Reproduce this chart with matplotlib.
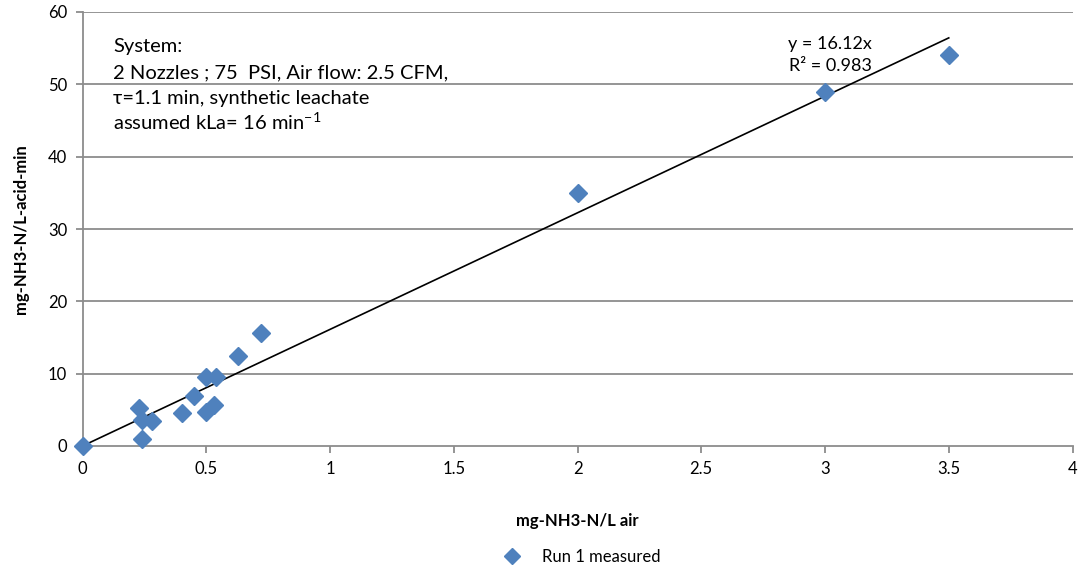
import matplotlib
matplotlib.use("Agg")
import matplotlib.pyplot as plt
import numpy as np

plt.rcParams['font.family'] = ['Lato', 'DejaVu Sans']
plt.rcParams['mathtext.fontset'] = 'custom'
plt.rcParams['mathtext.rm'] = 'Lato'

x_air = [0, 0.23, 0.24, 0.28, 0.24, 0.40, 0.45, 0.50, 0.54, 0.50, 0.53, 0.63, 0.72, 2.0, 3.0, 3.5]
y_acid = [0, 5.2, 3.6, 3.4, 0.9, 4.6, 6.9, 9.6, 9.5, 4.7, 5.7, 12.5, 15.6, 35.0, 49.0, 54.0]
slope = 16.12
r2 = 0.983
x_ticks = [0, 0.5, 1, 1.5, 2, 2.5, 3, 3.5, 4]
x_tick_labels = ['0', '0.5', '1', '1.5', '2', '2.5', '3', '3.5', '4']
y_ticks = [0, 10, 20, 30, 40, 50, 60]
info_lines = ['System:', '2 Nozzles ; 75  PSI, Air flow: 2.5 CFM,',
              'τ=1.1 min, synthetic leachate', 'assumed kLa= 16 min$^{\\mathrm{-1}}$']

fig = plt.figure(figsize=(10.81, 5.69), dpi=100)
ax = fig.add_axes([82.5/1081, 1 - 446/569, 990/1081, 434/569])

gray = '#8c8c8c'
for yt in y_ticks[1:]:
    ax.axhline(yt, color=gray, lw=1.3, zorder=0)

ax.plot(x_air, y_acid, linestyle='none', marker='D', markersize=9,
        color='#4F81BD', label='Run 1 measured', zorder=3, clip_on=False)

xf = np.array([0, max(x_air)])
ax.plot(xf, slope * xf, color='black', lw=1.2, zorder=2)

ax.set_xlim(0, 4)
ax.set_ylim(0, 60)
ax.set_xticks(x_ticks)
ax.set_xticklabels(x_tick_labels)
ax.set_yticks(y_ticks)
for s in ['top', 'right']:
    ax.spines[s].set_visible(False)
for s in ['left', 'bottom']:
    ax.spines[s].set_color(gray)
    ax.spines[s].set_linewidth(1.3)
ax.tick_params(axis='both', colors=gray, length=5, width=1.3, labelsize=12, labelcolor='black', pad=6)

ax.set_xlabel('mg-NH3-N/L air', fontsize=12, fontweight='bold', labelpad=26)
ax.set_ylabel('mg-NH3-N/L-acid-min', fontsize=12, fontweight='bold', labelpad=14)

for i, line in enumerate(info_lines):
    ax.text(113/1081, 1 - (52 + 26 * i)/569, line, transform=fig.transFigure,
            fontsize=14.5, va='baseline', ha='left')

ax.text(830/1081, 1 - 55/569, f'y = {slope}x\nR² = {r2}', transform=fig.transFigure,
        fontsize=13, ha='center', va='center', linespacing=1.5)

leg = fig.legend(loc='center', bbox_to_anchor=(578/1081, 1 - 557/569), frameon=False,
                 fontsize=12, handletextpad=0.8, markerscale=0.85)

fig.savefig('out.png', dpi=100)
